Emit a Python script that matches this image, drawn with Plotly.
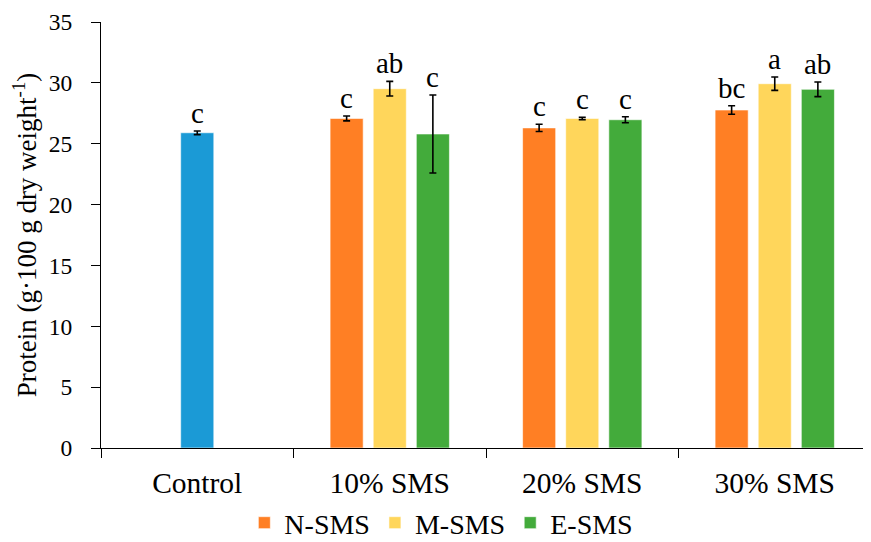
import plotly.graph_objects as go

categories = ["Control", "10% SMS", "20% SMS", "30% SMS"]
series_names = ["N-SMS", "M-SMS", "E-SMS"]
treat_cats = ["10% SMS", "20% SMS", "30% SMS"]

control_value = [25.9]
control_err = [0.15]
control_letter = ["c"]

n_values = [27.08, 26.3, 27.77]
n_err = [0.2, 0.3, 0.35]
n_letters = ["c", "c", "bc"]

m_values = [29.52, 27.08, 29.93]
m_err = [0.6, 0.1, 0.55]
m_letters = ["ab", "c", "a"]

e_values = [25.8, 26.97, 29.47]
e_err = [3.2, 0.25, 0.6]
e_letters = ["c", "c", "ab"]

colors = {"Control": "#1B9AD6", "N-SMS": "#FF7F24", "M-SMS": "#FFD65B", "E-SMS": "#43AB3B"}

FONT = "Liberation Serif"
BW = 0.172
STEP = 0.224

fig = go.Figure()

def add_series(name, xs, ys, errs, letters, offset, legend):
    fig.add_trace(go.Bar(
        x=xs, y=ys, name=name, width=BW, offset=offset - BW / 2,
        marker=dict(color=colors[name], line=dict(color="rgba(255,255,255,0.6)", width=1)),
        error_y=dict(type="data", array=errs, visible=True, color="black", thickness=1.6, width=3.5),
        showlegend=legend,
    ))
    for x, y, e, t in zip(xs, ys, errs, letters):
        fig.add_annotation(
            x=categories.index(x) + offset, y=y + e, text=t, showarrow=False,
            xref="x", yref="y", yanchor="bottom", yshift=0,
            font=dict(family=FONT, size=29, color="black"),
        )

add_series("Control", ["Control"], control_value, control_err, control_letter, 0.0, False)
add_series("N-SMS", treat_cats, n_values, n_err, n_letters, -STEP, True)
add_series("M-SMS", treat_cats, m_values, m_err, m_letters, 0.0, True)
add_series("E-SMS", treat_cats, e_values, e_err, e_letters, STEP, True)

fig.update_layout(
    width=863, height=534,
    margin=dict(l=93, r=0, t=14, b=94, autoexpand=False),
    paper_bgcolor="white", plot_bgcolor="white",
    barmode="overlay",
    font=dict(family=FONT, color="black"),
    legend=dict(orientation="h", x=0.442, xanchor="center", y=-0.176, yanchor="middle",
                font=dict(family=FONT, size=28), itemwidth=30, traceorder="normal"),
)
fig.update_xaxes(
    type="category", categoryorder="array", categoryarray=categories,
    range=[-0.5, 3.5], showline=True, linecolor="black", linewidth=1.2,
    ticks="outside", tickson="boundaries", ticklen=9, tickwidth=1.2, tickcolor="black",
    tickfont=dict(family=FONT, size=29.5), ticklabelstandoff=8,
    showgrid=False, zeroline=False, automargin=False,
)
fig.update_yaxes(
    range=[0, 35], dtick=5, showline=True, linecolor="black", linewidth=1.2,
    ticks="outside", ticklen=9, tickwidth=1.2, tickcolor="black",
    tickfont=dict(family=FONT, size=23.5), ticklabelstandoff=14,
    showgrid=False, zeroline=False, automargin=False,
    title=dict(text="Protein (g·100 g dry weight<sup>-1</sup>)", font=dict(family=FONT, size=27), standoff=5),
)

fig.write_html("out.html")
